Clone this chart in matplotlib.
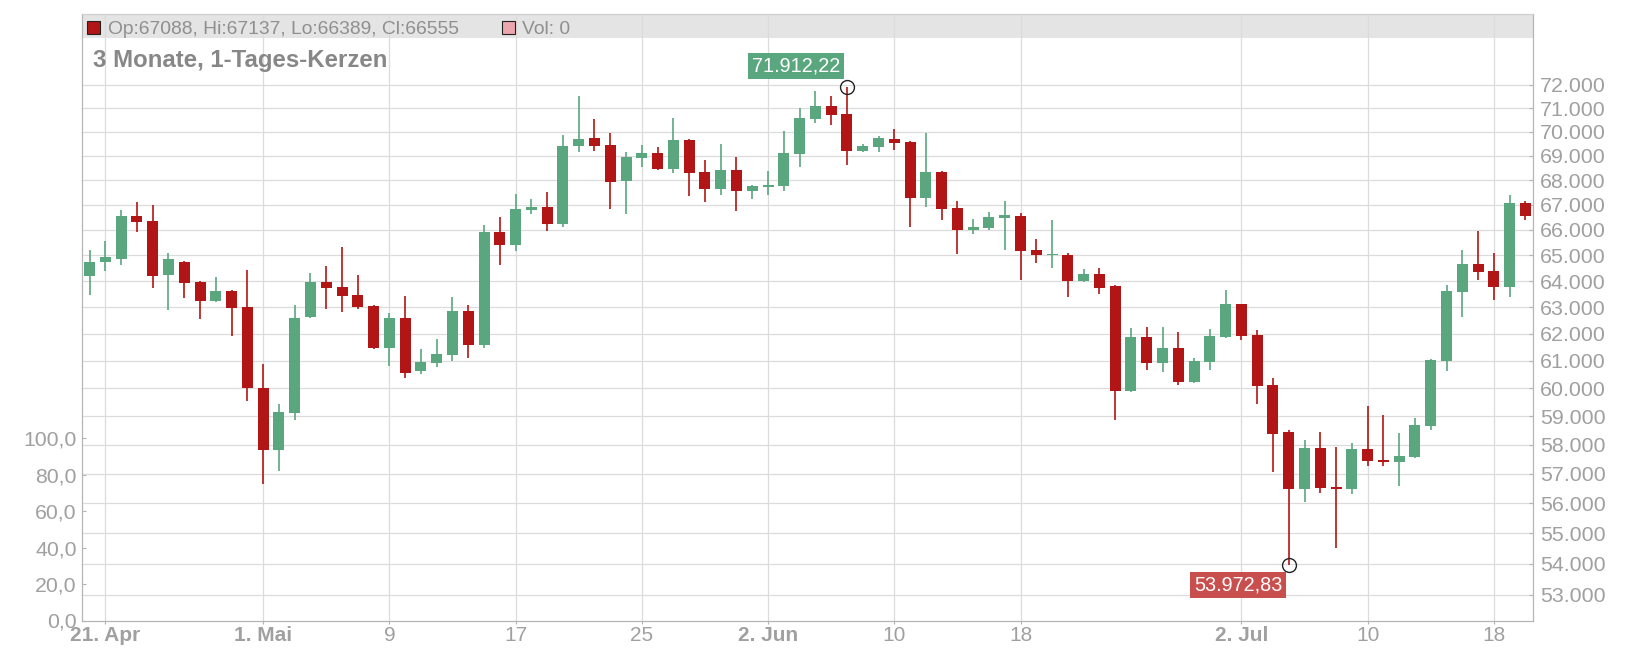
import matplotlib
matplotlib.use('Agg')
import matplotlib.pyplot as plt
from matplotlib.patches import Rectangle
from matplotlib.ticker import FuncFormatter, NullLocator, NullFormatter
import numpy as np
import pandas as pd

plt.rcParams['font.family'] = ['Liberation Sans', 'DejaVu Sans']

# daily candles, first day
start_date = '2024-04-20'

opens = [64205, 64736, 64853, 66553, 66353, 64233, 64736, 63962, 63237, 63618,
         63008, 60015, 57820, 59120, 62632, 63962, 63771, 63466, 63054, 61479,
         62594, 60633, 60924, 61220, 62857, 61590, 65913, 65402, 66792, 66912,
         66233, 69411, 69745, 69453, 67968, 68914, 69120, 68461, 69662, 68337,
         67643, 68420, 67562, 67724, 67765, 69092, 70547, 71098, 70759, 69203,
         69370, 69704, 69578, 67278, 68337, 66872, 65992, 66072, 66473, 66553,
         65205, 65008, 65008, 64000, 64271, 63809, 59907, 61885, 60924, 61479,
         60233, 60960, 61885, 63122, 61959, 60124, 58450, 56484, 57889, 56552,
         56484, 57855, 57475, 57406, 57579, 58663, 60996, 63588, 64663, 64384,
         63779, 67088]
highs = [65205, 65560, 66792, 67128, 66992, 65087, 64760, 63990, 64155, 63640,
         64426, 60887, 59442, 63084, 64310, 64581, 65323, 64233, 63080, 62782,
         63428, 61442, 61812, 63390, 63084, 66193, 66513, 67440, 67238, 67521,
         69871, 71527, 70547, 69954, 69161, 69453, 69370, 70589, 69690, 68831,
         69495, 68955, 67805, 68379, 70038, 71013, 71742, 71527, 71912.22, 69495,
         69829, 70123, 69600, 69954, 68360, 67156, 66433, 66712, 67156, 66672,
         65638, 66386, 65087, 64465, 64504, 63830, 62219, 62256, 62256, 62069,
         61107, 62181, 63657, 63140, 62144, 60378, 58522, 58169, 58450, 57924,
         58063, 59371, 59050, 58415, 58944, 61060, 63847, 65205, 65949, 65091,
         67400, 67137]
lows = [63466, 64390, 64620, 65913, 63733, 62895, 63351, 62557, 63198, 61922,
        59550, 56654, 57095, 58873, 62600, 62932, 62820, 62932, 61450, 60815,
        60378, 60524, 60778, 60996, 61109, 61479, 64620, 65166, 66633, 65953,
        66113, 69161, 69203, 66832, 66633, 68543, 68420, 68296, 67359, 67116,
        67400, 66752, 67238, 67400, 67562, 68543, 70377, 70292, 68626, 69161,
        69161, 69244, 66113, 66912, 66393, 65048, 65835, 65992, 65205, 64039,
        64698, 64504, 63390, 63980, 63504, 58873, 59880, 60669, 60597, 60124,
        60196, 60669, 61860, 61775, 59442, 57074, 53972.83, 56041, 56348, 54516,
        56314, 57269, 57269, 56586, 57550, 58522, 60633, 62613, 64054, 63290,
        63397, 66389]
closes = [64736, 64930, 66553, 66313, 64194, 64853, 63924, 63248, 63618, 62970,
          60015, 57820, 59156, 62594, 63962, 63733, 63428, 63008, 61479, 62594,
          60560, 60960, 61257, 62857, 61590, 65913, 65402, 66832, 66912, 66233,
          69411, 69704, 69411, 67927, 68955, 69120, 68461, 69662, 68296, 67643,
          68420, 67562, 67765, 67805, 69120, 70589, 71098, 70729, 69203, 69411,
          69745, 69537, 67278, 68337, 66832, 65992, 66113, 66513, 66593, 65165,
          65008, 65047, 64000, 64271, 63733, 59907, 61885, 60924, 61479, 60233,
          60996, 61922, 63122, 61922, 60088, 58381, 56484, 57889, 56518, 56484,
          57855, 57440, 57406, 57613, 58698, 61036, 63618, 64663, 64357, 63779,
          67077, 66555]
last_volume = 0

price_ticks = list(range(53000, 72001, 1000))
vol_ticks = [0, 20, 40, 60, 80, 100]
date_ticks = ['2024-04-21', '2024-05-01', '2024-05-09', '2024-05-17', '2024-05-25',
              '2024-06-02', '2024-06-10', '2024-06-18', '2024-07-02', '2024-07-10',
              '2024-07-18']
date_labels = ['21. Apr', '1. Mai', '9', '17', '25', '2. Jun', '10', '18',
               '2. Jul', '10', '18']
bold_labels = ['21. Apr', '1. Mai', '2. Jun', '2. Jul']

GREEN = '#5aa77f'
RED = '#b21515'
GRID = '#dcdcdc'
AXIS = '#b4b4b4'
LABEL = '#a0a0a0'


def de_num(v, dec):
    s = f"{v:,.{dec}f}"
    return s.replace(',', 'X').replace('.', ',').replace('X', '.')


W, H = 1641, 656
fig = plt.figure(figsize=(W / 100, H / 100), dpi=100)


def fx(px):
    return px / W


def fy(py):
    return 1 - py / H


ax_left, ax_right, ax_top, ax_bot = 81.7, 1533.3, 14.3, 620.5
ax = fig.add_axes([fx(ax_left), fy(ax_bot), (ax_right - ax_left) / W, (ax_bot - ax_top) / H])
axp = ax.twinx()

n = len(opens)
x = np.arange(n)
t0 = pd.Timestamp(start_date)
tick_pos = [(pd.Timestamp(d) - t0).days for d in date_ticks]

# volume axis (left)
ax.set_xlim(-0.5, n - 0.5)
ax.set_ylim(0, 100 * (ax_bot - ax_top) / 182.2)
ax.set_yticks(vol_ticks)
ax.yaxis.set_major_formatter(FuncFormatter(lambda v, p: de_num(v, 1)))
ax.set_axisbelow(True)
ax.grid(axis='x', color=GRID, lw=0.9)
ax.set_xticks(tick_pos)
ax.set_xticklabels(date_labels)
for lab in ax.get_xticklabels():
    if lab.get_text() in bold_labels:
        lab.set_fontweight('bold')
ax.tick_params(axis='x', direction='out', length=2.2, color=AXIS, pad=2,
               labelsize=15, labelcolor=LABEL)
ax.tick_params(axis='y', direction='in', length=3.2, color=AXIS, pad=3.6,
               labelsize=15.3, labelcolor=LABEL)

# header band
band_h = 23.4 / (ax_bot - ax_top)
ax.add_patch(Rectangle((0, 1 - band_h), 1, band_h, transform=ax.transAxes,
                       fc='#e4e4e4', ec='none', zorder=0.3))

# price axis (right, log)
axp.set_yscale('log')
axp.set_ylim(52191, 75124)
axp.set_yticks(price_ticks)
axp.yaxis.set_minor_locator(NullLocator())
axp.yaxis.set_minor_formatter(NullFormatter())
axp.yaxis.set_major_formatter(FuncFormatter(lambda v, p: de_num(v, 0)))
axp.set_axisbelow(True)
axp.grid(axis='y', color=GRID, lw=0.9)
axp.tick_params(axis='y', direction='in', length=3.2, color=AXIS, pad=4.8,
                labelsize=15.4, labelcolor=LABEL)

for a in (ax, axp):
    for side in ('left', 'right', 'bottom'):
        a.spines[side].set_color(AXIS)
    a.spines['top'].set_color('#cfcfcf')

# candles
o = np.array(opens, dtype=float)
c = np.array(closes, dtype=float)
hi = np.array(highs, dtype=float)
lo = np.array(lows, dtype=float)
cols = [GREEN if cc >= oo else RED for oo, cc in zip(o, c)]
axp.vlines(x, lo, hi, colors=cols, lw=1.2, zorder=2)
axp.bar(x, np.abs(c - o), bottom=np.minimum(o, c), width=0.7, color=cols, zorder=3)

# max / min markers
imax = int(np.argmax(hi))
imin = int(np.argmin(lo))
axp.plot([x[imax], x[imin]], [hi[imax], lo[imin]], 'o', mfc='none', mec='#222222',
         ms=10, mew=1, zorder=5)
axp.annotate(de_num(hi[imax], 2), xy=(x[imax], hi[imax]), xytext=(-7, 11.4),
             textcoords='offset pixels', ha='right', va='bottom', fontsize=14.3,
             color='white', zorder=6,
             bbox=dict(boxstyle='square,pad=0.18', fc='#5aa67e', ec='none'))
axp.annotate(de_num(lo[imin], 2), xy=(x[imin], lo[imin]), xytext=(-6.6, -10.9),
             textcoords='offset pixels', ha='right', va='top', fontsize=14.3,
             color='white', zorder=6,
             bbox=dict(boxstyle='square,pad=0.18', fc='#c94f4e', ec='none'))

# header texts
fig.patches.append(Rectangle((fx(86.7), fy(34)), 13.3 / W, 13.3 / H, transform=fig.transFigure,
                             fc=RED, ec='#222222', lw=0.8, figure=fig))
fig.text(fx(107.7), fy(34.2),
         f"Op:{opens[-1]:.0f}, Hi:{highs[-1]:.0f}, Lo:{lows[-1]:.0f}, Cl:{closes[-1]:.0f}",
         fontsize=13.9, color='#8f8f8f', va='baseline', ha='left')
fig.patches.append(Rectangle((fx(502), fy(34)), 13.3 / W, 13.3 / H, transform=fig.transFigure,
                             fc='#eea6ae', ec='#222222', lw=0.8, figure=fig))
fig.text(fx(521.7), fy(34.2), f"Vol: {last_volume}", fontsize=13.9, color='#8f8f8f',
         va='baseline', ha='left')
fig.text(fx(93.3), fy(66.7), '3 Monate, 1-Tages-Kerzen', fontsize=17.3, fontweight='bold',
         color='#878787', va='baseline', ha='left')

fig.savefig('out.png', dpi=100)
